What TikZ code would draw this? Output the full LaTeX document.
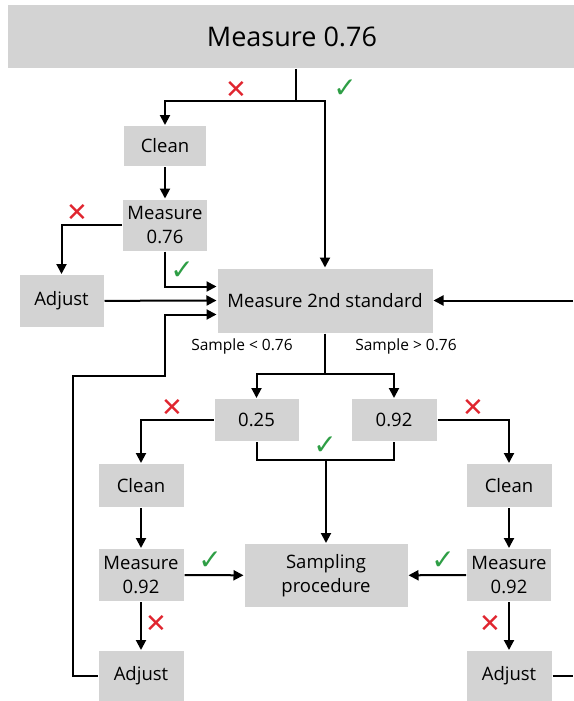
\documentclass[tikz,border=0pt]{standalone}
\usepackage{fontspec}
\setmainfont{Open Sans}
\newfontfamily\symfont{DejaVu Sans}
\usetikzlibrary{arrows.meta}
\definecolor{boxgray}{HTML}{D3D3D3}
\definecolor{nored}{HTML}{E0252F}
\definecolor{okgreen}{HTML}{2E9E45}
\newcommand{\nomark}{{\symfont\color{nored}\fontsize{26}{26}\selectfont ✕}}
\newcommand{\okmark}{{\symfont\color{okgreen}\fontsize{28}{28}\selectfont ✓}}

\begin{document}
\begin{tikzpicture}[x=1pt, y=-1pt,
        box/.style={fill=boxgray, inner sep=0pt, align=center,
            font=\fontsize{18.5}{24}\selectfont},
        arr/.style={-{Triangle[length=10pt,width=10pt]}},
        every path/.style={line width=2pt}]
            \useasboundingbox (0,0) rectangle (573,701);

            % Nodi
            \node[box, minimum width=568pt, minimum height=63pt,
                font=\fontsize{27}{30}\selectfont] (top) at (292,36.5) {Measure 0.76};
            \node[box, minimum width=82pt, minimum height=40pt] (clean1) at (165,146) {Clean};
            \node[box, minimum width=84pt, minimum height=51pt] (meas1) at (165,225) {Measure\\0.76};
            \node[box, minimum width=84pt, minimum height=52pt] (adj1) at (61.5,301) {Adjust};
            \node[box, minimum width=215pt, minimum height=64pt] (m2s) at (325,300.5) {Measure 2nd standard};
            \node[box, minimum width=84pt, minimum height=42pt] (n25) at (256.5,420) {0.25};
            \node[box, minimum width=85pt, minimum height=42pt] (n92) at (394,420) {0.92};
            \node[box, minimum width=85pt, minimum height=43pt] (cleanL) at (141,485.5) {Clean};
            \node[box, minimum width=85pt, minimum height=52pt] (measL) at (141,575) {Measure\\0.92};
            \node[box, minimum width=85pt, minimum height=50pt] (adjL) at (141,676) {Adjust};
            \node[box, minimum width=163pt, minimum height=63pt] (samp) at (326,575.5) {Sampling\\procedure};
            \node[box, minimum width=85pt, minimum height=43pt] (cleanR) at (509,485.5) {Clean};
            \node[box, minimum width=84pt, minimum height=52pt] (measR) at (509,575) {Measure\\0.92};
            \node[box, minimum width=85pt, minimum height=50pt] (adjR) at (509,676) {Adjust};

            % Punti di snodo
            \coordinate (j1) at (296,101);
            \coordinate (split) at (325,374);
            \coordinate (merge) at (326,460);
            \coordinate (loopL) at (73,376);
            \coordinate (loopM) at (165,376);
            \coordinate (inR) at (573,300.5);
            \coordinate (outR) at (573,676);

            % Archi
            \draw (j1 |- top.south) -- (j1);
            \draw[arr] (j1) -| (clean1.north);
            \draw[arr] (j1) -| (m2s.north);
            \draw[arr] (clean1) -- (meas1);
            \draw[arr] (meas1.west) -| (adj1.north);
            \draw[arr] (meas1.south) |- ([yshift=14pt]m2s.west);
            \draw[arr] (adj1) -- (m2s.west);
            \draw[arr] (adjL.west) -| (loopL) -- (loopM) |- ([yshift=-14pt]m2s.west);
            \draw[arr] (inR) -- (m2s.east);
            \draw (m2s.south) -- (split);
            \draw[arr] (split) -| (n25.north);
            \draw[arr] (split) -| (n92.north);
            \draw[arr] (n25.west) -| (cleanL.north);
            \draw[arr] (cleanL) -- (measL);
            \draw[arr] (measL) -- (adjL);
            \draw[arr] (measL) -- (samp);
            \draw (n25.south) |- (merge) -| (n92.south);
            \draw[arr] (merge) -- (samp.north);
            \draw[arr] (n92.east) -| (cleanR.north);
            \draw[arr] (cleanR) -- (measR);
            \draw[arr] (measR) -- (samp);
            \draw[arr] (measR) -- (adjR);
            \draw (adjR.east) -- (outR);

            % Etichette
            \node (x1) at (236,90) {\nomark};
            \node (c1) at (345,89) {\okmark};
            \node (x2) at (77,213) {\nomark};
            \node (c2) at (182,271) {\okmark};
            \node[font=\fontsize{15.5}{18}\selectfont] (lo) at (242,346) {Sample < 0.76};
            \node[font=\fontsize{15.5}{18}\selectfont] (hi) at (406,346) {Sample > 0.76};
            \node (x3) at (172,408) {\nomark};
            \node (c3) at (325,446) {\okmark};
            \node (x4) at (473,408) {\nomark};
            \node (c4) at (210,561) {\okmark};
            \node (c5) at (443,561) {\okmark};
            \node (x5) at (156,624) {\nomark};
            \node (x6) at (490,624) {\nomark};
        \end{tikzpicture}
\end{document}
